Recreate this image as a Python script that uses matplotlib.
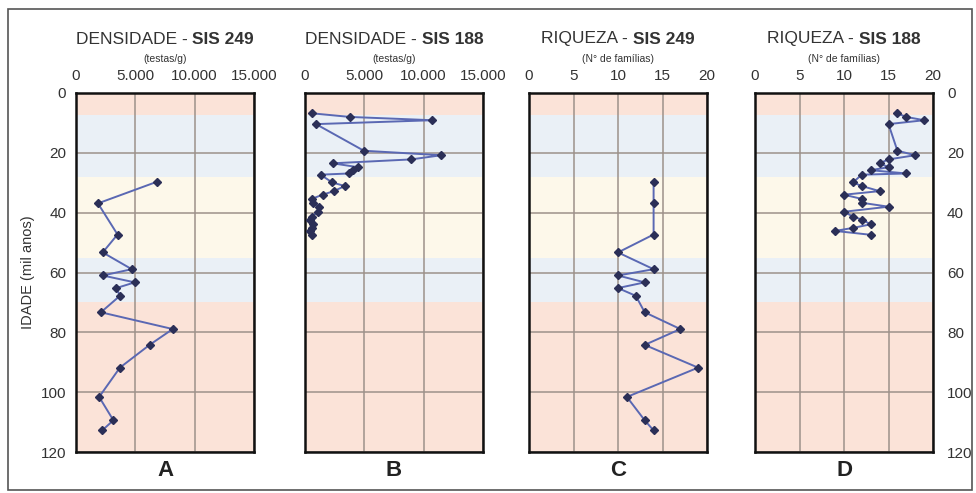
import matplotlib
matplotlib.use('Agg')
import matplotlib.pyplot as plt
from matplotlib.patches import Rectangle
from matplotlib.offsetbox import TextArea, HPacker, AnchoredOffsetbox
from matplotlib.ticker import FuncFormatter

plt.rcParams['font.family'] = ['Liberation Sans', 'DejaVu Sans']

# idade (mil anos) das amostras
age_249 = [29.7, 36.9, 47.3, 53.3, 58.9, 61.0, 63.3, 65.2, 67.8, 73.3,
           78.9, 84.2, 91.8, 101.6, 109.4, 112.8]
dens_249 = [6800, 1850, 3500, 2250, 4700, 2250, 4950, 3400, 3700, 2100,
            8150, 6200, 3700, 1950, 3150, 2200]
riq_249 = [14, 14, 14, 10, 14, 10, 13, 10, 12, 13, 17, 13, 19, 11, 13, 14]

age_188 = [6.8, 8.0, 9.1, 10.4, 19.3, 20.8, 22.2, 23.5, 24.8, 25.8, 26.9,
           27.3, 29.9, 31.1, 32.8, 34.0, 35.4, 36.7, 38.0, 39.7, 41.3, 42.3,
           43.9, 45.1, 46.1, 47.4]
dens_188 = [615, 3780, 10730, 925, 4960, 11490, 8940, 2330, 4470, 4050, 3710,
            1310, 2290, 3350, 2430, 1480, 560, 700, 1200, 1115, 560, 450,
            650, 560, 400, 560]
riq_188 = [16, 17, 19, 15, 16, 18, 15, 14, 15, 13, 17, 12, 11, 12, 14, 10,
           12, 12, 15, 10, 11, 12, 13, 11, 9, 13]

# faixas de fundo (idade inicial, final, cor)
bands = [(0, 7.3, '#fbe3d8'), (7.3, 28.2, '#eaf0f6'), (28.2, 55.3, '#fdf8ea'),
         (55.3, 70, '#eaf0f6'), (70, 120, '#fbe3d8')]

panels = [
    ('DENSIDADE - ', 'SIS 249', '(testas/g)', age_249, dens_249, 15000, 5000, 'A'),
    ('DENSIDADE - ', 'SIS 188', '(testas/g)', age_188, dens_188, 15000, 5000, 'B'),
    ('RIQUEZA - ', 'SIS 249', '(N° de famílias)', age_249, riq_249, 20, 5, 'C'),
    ('RIQUEZA - ', 'SIS 188', '(N° de famílias)', age_188, riq_188, 20, 5, 'D'),
]

W, H = 976, 493
fig = plt.figure(figsize=(W / 100, H / 100), dpi=100)
fig.patch.set_facecolor('white')

lefts = [76, 305, 529, 755]
width = 178
top, bottom = 93, 452
text_col = '#333333'


def thousands(v, pos):
    return f'{int(v):,}'.replace(',', '.')


for i, (t1, t2, sub, age, vals, xmax, step, letter) in enumerate(panels):
    ax = fig.add_axes([lefts[i] / W, (H - bottom) / H, width / W, (bottom - top) / H])
    for a0, a1, c in bands:
        ax.axhspan(a0, a1, color=c, lw=0, zorder=0)
    ax.set_xlim(0, xmax)
    ax.set_ylim(120, 0)
    ax.set_xticks(range(0, xmax + 1, step))
    ax.set_yticks(range(0, 121, 20))
    if xmax > 100:
        ax.xaxis.set_major_formatter(FuncFormatter(thousands))
    ax.xaxis.tick_top()
    ax.tick_params(axis='x', length=0, pad=7, labelsize=11, labelcolor=text_col)
    ax.tick_params(axis='y', length=0, pad=7, labelsize=11, labelcolor=text_col)
    if i == 0:
        ax.set_ylabel('IDADE (mil anos)', fontsize=10.5, color=text_col, labelpad=4)
    elif i == 3:
        ax.yaxis.tick_right()
        ax.tick_params(axis='y', pad=10)
    else:
        ax.set_yticklabels([])
    ax.grid(True, color='#9d918a', lw=1.1)
    ax.set_axisbelow(True)
    for s in ax.spines.values():
        s.set_linewidth(1.8)
        s.set_color('#111111')

    ax.plot(vals, age, '-', color='#5a68b3', lw=1.4, zorder=3)
    ax.plot(vals, age, 'D', color='#2b2f57', ms=4, zorder=4)

    box = HPacker(children=[
        TextArea(t1, textprops=dict(fontsize=12.5, color=text_col)),
        TextArea(t2, textprops=dict(fontsize=12.5, color=text_col, fontweight='bold')),
    ], align='baseline', pad=0, sep=0)
    anch = AnchoredOffsetbox(loc='center', child=box, frameon=False, pad=0,
                             bbox_to_anchor=(0.5, 1 + 54 / (bottom - top)),
                             bbox_transform=ax.transAxes, borderpad=0)
    ax.add_artist(anch)
    ax.text(0.5, 1 + 34 / (bottom - top), sub, transform=ax.transAxes,
            ha='center', va='center', fontsize=7.5, color=text_col)
    ax.text(0.5, -18 / (bottom - top), letter, transform=ax.transAxes,
            ha='center', va='center', fontsize=16, fontweight='bold', color='#222222')

fig.patches.append(Rectangle((8 / W, 3 / H), (W - 12) / W, (H - 12) / H,
                             transform=fig.transFigure, fill=False,
                             edgecolor='#555555', lw=1.2))

fig.savefig('out.png', dpi=100)
